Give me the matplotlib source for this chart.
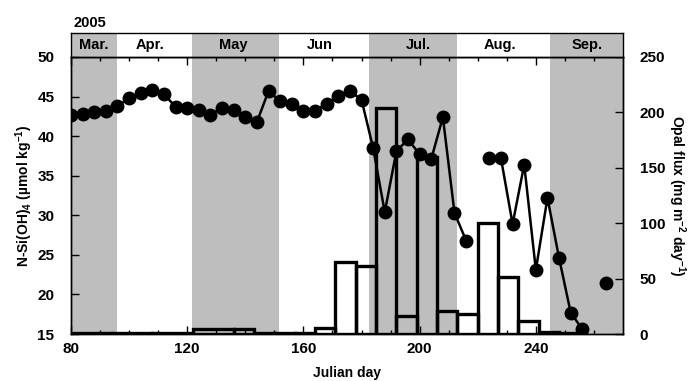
import numpy as np
import matplotlib
matplotlib.use("Agg")
import matplotlib.pyplot as plt

plt.rcParams['font.family'] = ['Liberation Sans', 'DejaVu Sans']
plt.rcParams['font.weight'] = 'bold'
plt.rcParams['mathtext.fontset'] = 'custom'
plt.rcParams['mathtext.rm'] = 'Liberation Sans:bold'
plt.rcParams['mathtext.it'] = 'Liberation Sans:bold'
plt.rcParams['mathtext.default'] = 'rm'

# silicate, sampled every 4 days (NaN = no sample)
si_day = np.arange(80, 268, 4)
si_val = [42.7, 42.8, 43.0, 43.2, 43.8, 44.8, 45.4, 45.8, 45.3, 43.7,
          43.6, 43.3, 42.7, 43.6, 43.3, 42.4, 41.8, 45.7, 44.4, 44.1,
          43.2, 43.2, 44.1, 45.1, 45.7, 44.6, 38.5, 30.4, 38.1, 39.6,
          37.7, 37.1, 42.4, 30.3, 26.8, np.nan, 37.2, 37.2, 28.9, 36.4,
          23.1, 32.2, 24.6, 17.7, 15.6, np.nan, 21.4]

# sediment trap opal flux, cup edges (Julian day) and flux
cup_edges = [80, 94, 108, 122, 136, 143, 150, 157, 164, 171, 178, 185,
             192, 199, 206, 213, 220, 227, 234, 241, 248, 256]
opal_flux = [1, 1, 1, 4.5, 4.5, 1, 1, 1, 5.5, 65, 61.5, 204, 16, 160,
             21, 18, 100, 51.5, 12, 2, 1]

# shaded months (start, end)
shade = [(80, 96), (121.5, 151.5), (182.5, 213), (245, 270)]
month_names = ["Mar.", "Apr.", "May", "Jun", "Jul.", "Aug.", "Sep."]
month_pos = [88, 107.3, 135.7, 165.7, 199.4, 227.6, 257.8]

gray = "#bebebe"
fig = plt.figure(figsize=(6.91, 3.81), dpi=100)
L, R = 71 / 691, 623 / 691
B, T = 1 - 334 / 381, 1 - 57 / 381
ax = fig.add_axes([L, B, R - L, T - B])
ax2 = ax.twinx()
ax.set_zorder(ax2.get_zorder() + 1)
ax.patch.set_visible(False)

for a, b in shade:
    ax2.axvspan(a, b, color=gray, lw=0, zorder=0)

edges = np.array(cup_edges)
ax2.bar(edges[:-1], opal_flux, width=np.diff(edges), align='edge',
        fill=False, edgecolor='black', linewidth=2.4, zorder=2)
ax2.set_ylim(0, 250)
ax2.set_yticks(range(0, 251, 50))

ax.plot(si_day, si_val, color='black', lw=1.8, marker='o', ms=9, zorder=3)
ax.set_xlim(80, 270)
ax.set_ylim(15, 50)
ax.set_yticks(range(15, 51, 5))
ax.set_xticks(range(80, 261, 40))
ax.set_xticks(range(80, 270, 10), minor=True)

ax.tick_params(axis='x', which='both', direction='in', top=True, labelsize=11, pad=6)
ax.tick_params(axis='x', which='major', length=6, width=1)
ax.tick_params(axis='x', which='minor', length=3, width=1)
ax.tick_params(axis='y', direction='in', length=6, width=1, labelsize=11, pad=12)
ax2.tick_params(axis='y', direction='in', length=6, width=1, labelsize=11, pad=12)
for a in (ax, ax2):
    for s in a.spines.values():
        s.set_linewidth(1.0)

ax.set_xlabel("Julian day", fontsize=10, fontweight='bold', labelpad=7)
ax.set_ylabel("N-Si(OH)$_4$ (µmol kg$^{-1}$)", fontsize=10, fontweight='bold',
              labelpad=2)
ax2.set_ylabel("Opal flux (mg m$^{-2}$ day$^{-1}$)", fontsize=10, fontweight='bold',
               rotation=270, labelpad=16)

# month header strip
hax = fig.add_axes([L, T, R - L, (1 - 33 / 381) - T])
for a, b in shade:
    hax.axvspan(a, b, color=gray, lw=0)
hax.set_xlim(80, 270)
hax.set_ylim(0, 1)
hax.set_xticks([])
hax.set_yticks([])
for s in hax.spines.values():
    s.set_linewidth(1.0)
for name, p in zip(month_names, month_pos):
    hax.text(p, 0.5, name, ha='center', va='center', fontsize=10.5, fontweight='bold')
fig.text(73 / 691, 1 - 23 / 381, "2005", ha='left', va='center', fontsize=10.5,
         fontweight='bold')

fig.savefig("out.png", dpi=100)
